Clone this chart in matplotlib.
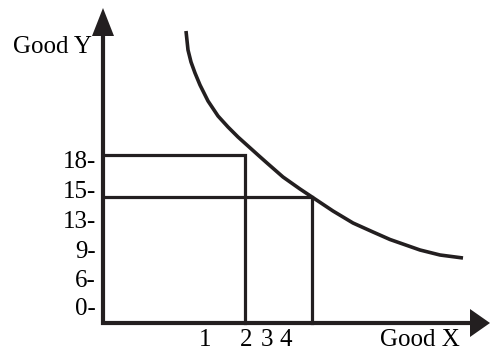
import matplotlib
matplotlib.use('Agg')
import matplotlib.pyplot as plt
from matplotlib.patches import Polygon

INK = '#231F20'

# everything in picture units (x right, y down), origin of the diagram at (103, 323)
ORIGIN = (103, 323)
X_END, Y_END = 470, 36          # where the shafts stop and the arrow heads start
X_TIP, Y_TIP = 490, 8

# indifference curve
curve_x = [186, 188, 191, 195, 200, 208, 218, 228, 238, 248, 258, 267, 283,
           300, 312, 333, 353, 373, 390, 400, 420, 440, 463]
curve_y = [31, 50, 62, 73, 85, 101, 116, 127, 137, 146, 155, 163, 177,
           189, 197, 211, 223, 232, 239.5, 243, 250, 255, 258]

# the two bundles (corner of each box)
box_x = [245, 312]
box_y = [155, 197]

y_labels = ['18-', '15-', '13-', '9-', '6-', '0-']
y_label_pos = [168, 198, 228, 258, 287, 315]
x_labels = ['1', '2', '3', '4']
x_label_pos = [205, 246, 267, 286]

fig = plt.figure(figsize=(4.9, 3.5), dpi=100)
ax = fig.add_axes([0, 0, 1, 1])
ax.set_xlim(0, 490)
ax.set_ylim(350, 0)
ax.axis('off')

# axes with arrow heads
ax.plot([ORIGIN[0], ORIGIN[0]], [ORIGIN[1] + 2, Y_END], color=INK, lw=3.0, solid_capstyle='butt')
ax.plot([ORIGIN[0] - 2, X_END], [ORIGIN[1], ORIGIN[1]], color=INK, lw=3.0, solid_capstyle='butt')
ax.add_patch(Polygon([[ORIGIN[0] - 11, Y_END], [ORIGIN[0] + 11, Y_END], [ORIGIN[0], Y_TIP]],
                     closed=True, color=INK, lw=0))
ax.add_patch(Polygon([[X_END, ORIGIN[1] - 14], [X_END, ORIGIN[1] + 14], [X_TIP, ORIGIN[1]]],
                     closed=True, color=INK, lw=0))

# boxes
for bx, by in zip(box_x, box_y):
    ax.plot([ORIGIN[0], bx, bx], [by, by, ORIGIN[1]], color=INK, lw=2.3,
            solid_joinstyle='miter')

ax.plot(curve_x, curve_y, color=INK, lw=2.6, solid_capstyle='butt', solid_joinstyle='round')

font = dict(family='Liberation Serif', fontsize=18, color='black')
for lab, y in zip(y_labels, y_label_pos):
    ax.text(96, y, lab, ha='right', va='baseline', **font)
for lab, x in zip(x_labels, x_label_pos):
    ax.text(x, 346, lab, ha='center', va='baseline', **font)

ax.text(13, 53, 'Good Y', ha='left', va='baseline', **font)
ax.text(380, 346, 'Good X', ha='left', va='baseline', **font)

fig.savefig('out.png', dpi=100)
